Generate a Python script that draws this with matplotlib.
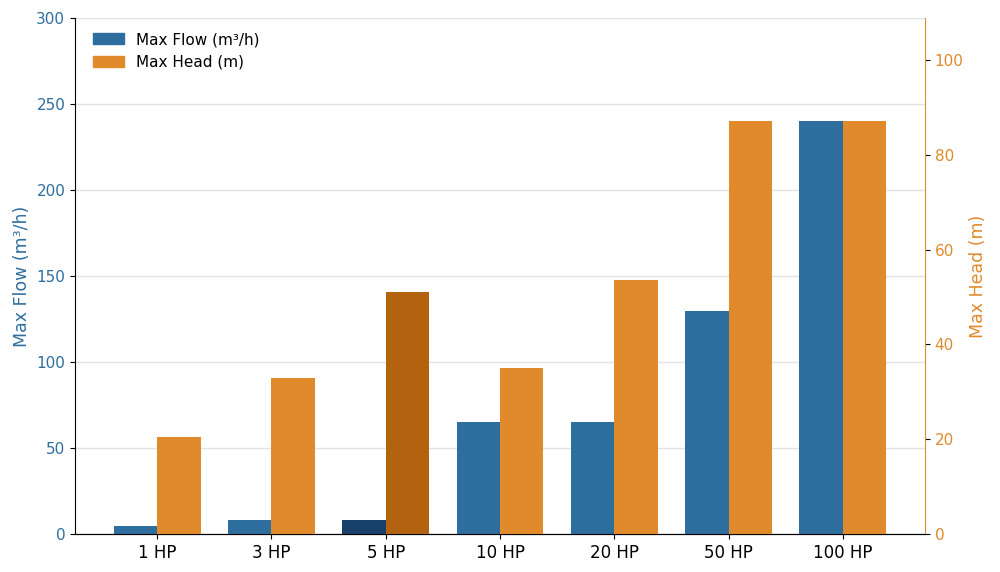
import numpy as np
import matplotlib
matplotlib.use("Agg")
import matplotlib.pyplot as plt
from matplotlib.patches import Patch

categories = ["1 HP", "3 HP", "5 HP", "10 HP", "20 HP", "50 HP", "100 HP"]
max_flow = [5, 8.5, 8.5, 65, 65, 130, 240]
max_head = [20.5, 33, 51, 35, 53.5, 87, 87]
highlight = "5 HP"

blue = "#2e6e9e"
orange = "#e08a2c"
dark_blue = "#17416b"
dark_orange = "#b3620f"

x = np.arange(len(categories))
w = 0.38

fig, ax = plt.subplots(figsize=(10, 5.72), dpi=100)
ax2 = ax.twinx()

# darker shade for the highlighted model
flow_colors = [dark_blue if c == highlight else blue for c in categories]
head_colors = [dark_orange if c == highlight else orange for c in categories]

ax.bar(x - w, max_flow, w, align="edge", color=flow_colors, zorder=3)
ax2.bar(x, max_head, w, align="edge", color=head_colors, zorder=3)

ax.set_ylim(0, max(max_flow) * 1.25)
ax2.set_ylim(0, max(max_head) * 1.25)

ax.set_xticks(x)
ax.set_xticklabels(categories, fontsize=12)
ax.set_ylabel("Max Flow (m³/h)", color=blue, fontsize=12.5)
ax2.set_ylabel("Max Head (m)", color=orange, fontsize=12.5)
ax.tick_params(axis="y", labelcolor=blue, labelsize=11)
ax2.tick_params(axis="y", labelcolor=orange, labelsize=11)

ax.yaxis.grid(True, color="#e3e3e3", linewidth=1, zorder=0)
ax.set_axisbelow(True)

for s in ["top", "right"]:
    ax.spines[s].set_visible(False)
ax2.spines["top"].set_visible(False)
ax2.spines["left"].set_visible(False)
ax2.spines["right"].set_color(orange)

handles = [Patch(color=blue, label="Max Flow (m³/h)"), Patch(color=orange, label="Max Head (m)")]
ax.legend(handles=handles, loc="upper left", frameon=False, fontsize=11,
          bbox_to_anchor=(0.005, 1.0))

plt.subplots_adjust(left=0.075, right=0.925, top=0.968, bottom=0.066)
plt.savefig("out.png", dpi=100)
